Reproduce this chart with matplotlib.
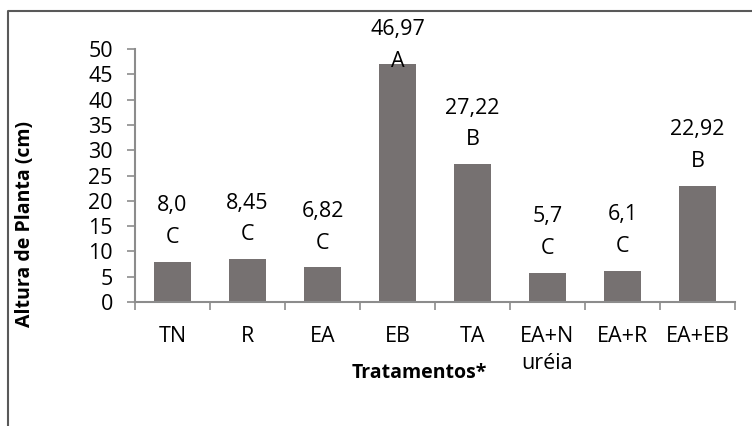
import matplotlib.pyplot as plt
import numpy as np
from matplotlib.lines import Line2D

plt.rcParams['font.family'] = ['Open Sans', 'DejaVu Sans']

#--treatments, mean plant height (cm) and Tukey letters
tratamentos = ['TN', 'R', 'EA', 'EB', 'TA', 'EA+N\nuréia', 'EA+R', 'EA+EB']
altura = [8.0, 8.45, 6.82, 46.97, 27.22, 5.7, 6.1, 22.92]
rotulos = ['8,0', '8,45', '6,82', '46,97', '27,22', '5,7', '6,1', '22,92']
letras = ['C', 'C', 'C', 'A', 'B', 'C', 'C', 'B']

bar_color = '#767171'
axis_color = '#8c8c8c'
fs = 15.5

fig = plt.figure(figsize=(7.52, 4.26), dpi=100)
ax = fig.add_axes([135/752, 1-302/426, 600/752, 253/426])

x = np.arange(len(tratamentos))
ax.bar(x, altura, width=0.5, color=bar_color, zorder=2)

ax.set_xlim(-0.5, len(tratamentos)-0.5)
ax.set_ylim(0, 50)
ax.set_yticks(np.arange(0, 51, 5))

#--category ticks sit between bars, labels centred on bars
ax.set_xticks(np.arange(-0.5, len(tratamentos), 1.0))
ax.set_xticklabels([])
ax.set_xticks(x, minor=True)
ax.set_xticklabels(tratamentos, minor=True, fontsize=fs, linespacing=1.4, va='top')
ax.tick_params(axis='x', which='minor', length=0, pad=17)
ax.tick_params(axis='x', which='major', length=6, width=1.2, color=axis_color, direction='out')
ax.tick_params(axis='y', length=6, width=1.2, color=axis_color, direction='out', labelsize=fs, pad=10)

for s in ['top', 'right']:
    ax.spines[s].set_visible(False)
for s in ['left', 'bottom']:
    ax.spines[s].set_color(axis_color)
    ax.spines[s].set_linewidth(1.5)

#--value and letter above each bar (kept inside the top of the plot)
for xi, v, r, l in zip(x, altura, rotulos, letras):
    yl = min(v + 4.8, 47.6)
    ax.text(xi, yl, l, ha='center', va='center', fontsize=fs, clip_on=False, zorder=3)
    ax.text(xi, yl + 6.3, r, ha='center', va='center', fontsize=fs, clip_on=False, zorder=3)

ax.set_ylabel('Altura de Planta (cm)', fontsize=14, fontweight='bold')
ax.yaxis.set_label_coords(35/600 - 135/600, (302-224)/253, transform=ax.transAxes)
fig.text(419/752, 1-373/426, 'Tratamentos*', ha='center', va='center',
         fontsize=14, fontweight='bold')

#--chart border (left and top edges)
fig.add_artist(Line2D([8/752, 8/752, 1.0], [0.0, 1-11/426, 1-11/426],
                      color='#595959', lw=1.5, transform=fig.transFigure))

fig.savefig('out.png', dpi=100)
